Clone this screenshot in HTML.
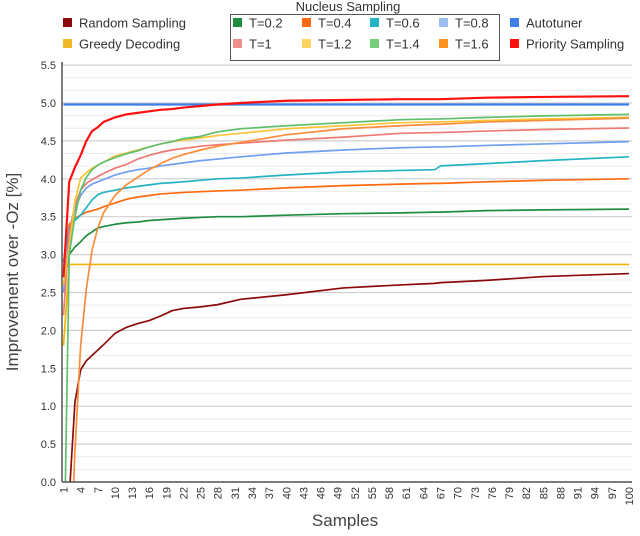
<!DOCTYPE html>
<html><head><meta charset="utf-8">
<style>
html,body{margin:0;padding:0;background:#fff;width:640px;height:536px;overflow:hidden;}
svg{display:block;font-family:"Liberation Sans",sans-serif;}
</style></head>
<body>
<svg id="chart" width="640" height="536" viewBox="0 0 640 536" xmlns="http://www.w3.org/2000/svg">
<defs><clipPath id="plotclip"><rect x="62" y="60" width="572" height="422"/></clipPath></defs>
<g id="grid"></g>
<g id="yticks"></g>
<g id="xticks"></g>
<g id="series" clip-path="url(#plotclip)"></g>
<line x1="62" y1="62" x2="62" y2="482" stroke="#555" stroke-width="1.5"/>
<line x1="62" y1="482" x2="632" y2="482" stroke="#555" stroke-width="1.5"/>
<text x="18" y="272" transform="rotate(-90 18 272)" text-anchor="middle" font-size="17" fill="#444">Improvement over -Oz [%]</text>
<text x="345" y="526" text-anchor="middle" font-size="17" fill="#444">Samples</text>
<text x="348" y="11" text-anchor="middle" font-size="13" fill="#333">Nucleus Sampling</text>
<rect x="230.5" y="14.5" width="269" height="46" fill="none" stroke="#555" stroke-width="1"/>
<g id="legend" font-size="13" fill="#333"></g>
</svg>
<script>
const samples = [1,2,3,4,5,6,7,8,10,12,14,16,18,20,22,25,28,32,40,50,60,66,67,75,85,100];
const randomSampling = [-3,-0.2,1.05,1.48,1.6,1.67,1.74,1.81,1.96,2.04,2.09,2.13,2.19,2.26,2.29,2.31,2.34,2.41,2.47,2.56,2.6,2.62,2.63,2.66,2.71,2.75];
const greedyDecoding = [1.8,2.87,2.87,2.87,2.87,2.87,2.87,2.87,2.87,2.87,2.87,2.87,2.87,2.87,2.87,2.87,2.87,2.87,2.87,2.87,2.87,2.87,2.87,2.87,2.87,2.87];
const t02 = [2.6,3.0,3.1,3.17,3.25,3.3,3.35,3.37,3.4,3.42,3.43,3.45,3.46,3.47,3.48,3.49,3.5,3.5,3.52,3.54,3.55,3.56,3.56,3.58,3.59,3.6];
const t04 = [2.9,3.4,3.48,3.52,3.56,3.58,3.6,3.63,3.68,3.73,3.76,3.78,3.8,3.81,3.82,3.83,3.84,3.85,3.88,3.91,3.93,3.94,3.94,3.96,3.98,4.0];
const t06 = [2.9,3.35,3.45,3.52,3.62,3.72,3.79,3.82,3.85,3.88,3.9,3.92,3.94,3.95,3.96,3.98,4.0,4.01,4.05,4.09,4.11,4.12,4.17,4.2,4.24,4.29];
const t08 = [2.5,3.3,3.6,3.78,3.88,3.93,3.96,3.99,4.05,4.09,4.12,4.14,4.17,4.19,4.21,4.24,4.26,4.29,4.34,4.38,4.41,4.42,4.42,4.44,4.46,4.49];
const t10 = [2.2,3.3,3.65,3.85,3.94,3.99,4.03,4.07,4.14,4.19,4.26,4.31,4.35,4.38,4.4,4.43,4.45,4.47,4.51,4.55,4.6,4.61,4.61,4.63,4.65,4.67];
const t12 = [2.6,3.1,3.7,4.01,4.08,4.14,4.18,4.22,4.3,4.34,4.38,4.42,4.46,4.49,4.51,4.54,4.57,4.6,4.66,4.7,4.74,4.75,4.75,4.77,4.79,4.81];
const t14 = [-1.5,3.0,3.5,3.85,4.02,4.12,4.18,4.22,4.28,4.33,4.37,4.42,4.46,4.49,4.53,4.56,4.62,4.66,4.7,4.74,4.78,4.79,4.79,4.81,4.83,4.85];
const t16 = [-4,-1.5,0.4,1.8,2.55,3.06,3.35,3.55,3.78,3.92,4.02,4.12,4.2,4.27,4.32,4.38,4.43,4.48,4.58,4.66,4.7,4.72,4.72,4.75,4.77,4.8];
const autotuner = [4.98,4.98,4.98,4.98,4.98,4.98,4.98,4.98,4.98,4.98,4.98,4.98,4.98,4.98,4.98,4.98,4.98,4.98,4.98,4.98,4.98,4.98,4.98,4.98,4.98,4.98];
const prioritySampling = [2.7,3.96,4.15,4.31,4.5,4.63,4.68,4.75,4.81,4.85,4.87,4.89,4.91,4.92,4.94,4.96,4.98,5.0,5.03,5.04,5.05,5.05,5.05,5.07,5.08,5.09];
const yTickLabels = ["0.0","0.5","1.0","1.5","2.0","2.5","3.0","3.5","4.0","4.5","5.0","5.5"];
const yTickValues = [0,0.5,1,1.5,2,2.5,3,3.5,4,4.5,5,5.5];
const xTickValues = [1,4,7,10,13,16,19,22,25,28,31,34,37,40,43,46,49,52,55,58,61,64,67,70,73,76,79,82,85,88,91,94,97,100];

const NS = "http://www.w3.org/2000/svg";
const X0 = 63.5, X1 = 629, Y0 = 482, PXV = 75.8;
function xs(n){ return X0 + (n-1)*(X1-X0)/99; }
function ys(v){ return Y0 - v*PXV; }
function mk(tag, attrs, parent){ const e=document.createElementNS(NS,tag); for(const k in attrs) e.setAttribute(k,attrs[k]); parent.appendChild(e); return e; }

const grid = document.getElementById('grid');
for(let i=0;i<=33;i++){
  const v = i*0.5/3;
  const major = i%3===0;
  const l = mk('line',{x1:62,x2:632,y1:ys(v),y2:ys(v),stroke:major?'#cfcfcf':'#ececec','stroke-width':major?1.2:1},grid);
  
  
}
const yt = document.getElementById('yticks');
yTickValues.forEach((v,i)=>{
  const t = mk('text',{x:56,y:ys(v)+4,'text-anchor':'end','font-size':11,fill:'#333'},yt);
  t.textContent = yTickLabels[i];
  
  
});
const xt = document.getElementById('xticks');
xTickValues.forEach(n=>{
  const x = xs(n)+4, y = 487;
  const t = mk('text',{x:x,y:y,transform:`rotate(-90 ${x} ${y})`,'text-anchor':'end','font-size':11,fill:'#333'},xt);
  t.textContent = String(n);
  
  
});

const seriesList = [
  ['random-sampling-line', randomSampling, '#8b0a0a'],
  ['greedy-decoding-line', greedyDecoding, '#f6b400'],
  ['t-0.2-line', t02, '#1e8e3e'],
  ['t-0.4-line', t04, '#ff6a10'],
  ['t-0.6-line', t06, '#23b3c4'],
  ['t-0.8-line', t08, '#6f9ff0'],
  ['t-1-line', t10, '#ee7a74'],
  ['t-1.2-line', t12, '#fbc434'],
  ['t-1.4-line', t14, '#5fbf6e'],
  ['t-1.6-line', t16, '#fa8c3a'],
  ['autotuner-line', autotuner, '#3f7de8'],
  ['priority-sampling-line', prioritySampling, '#ff1010']
];
const sg = document.getElementById('series');
seriesList.forEach(([name, vals, col])=>{
  const d = vals.map((v,i)=>(i?'L':'M')+xs(samples[i]).toFixed(2)+','+ys(v).toFixed(2)).join(' ');
  const p = mk('path',{d:d,fill:'none',stroke:col,'stroke-width':name==='autotuner-line'||name==='priority-sampling-line'?2.2:1.7,'stroke-linejoin':'round'},sg);
  
  
});

const legendItems = [
  ['Random Sampling','#8b0a0a',67,23],['Greedy Decoding','#f0b92a',67,44],
  ['T=0.2','#1e8e3e',237,23],['T=0.4','#ff6a10',306,23],['T=0.6','#23b3c4',374,23],['T=0.8','#9dbdee',443,23],
  ['T=1','#ee8f8a',237,44],['T=1.2','#fdd460',306,44],['T=1.4','#78cd7c',374,44],['T=1.6','#fa921e',443,44],
  ['Autotuner','#3f7de8',514,23],['Priority Sampling','#ff1010',514,44]
];
const lg = document.getElementById('legend');
legendItems.forEach(([label,col,x,y])=>{
  const r = mk('rect',{x:x-4,y:y-5,width:9,height:9,fill:col},lg);
  
  
  const t = mk('text',{x:x+12,y:y+4.5},lg);
  t.textContent = label;
  
  
});
</script>
</body></html>
